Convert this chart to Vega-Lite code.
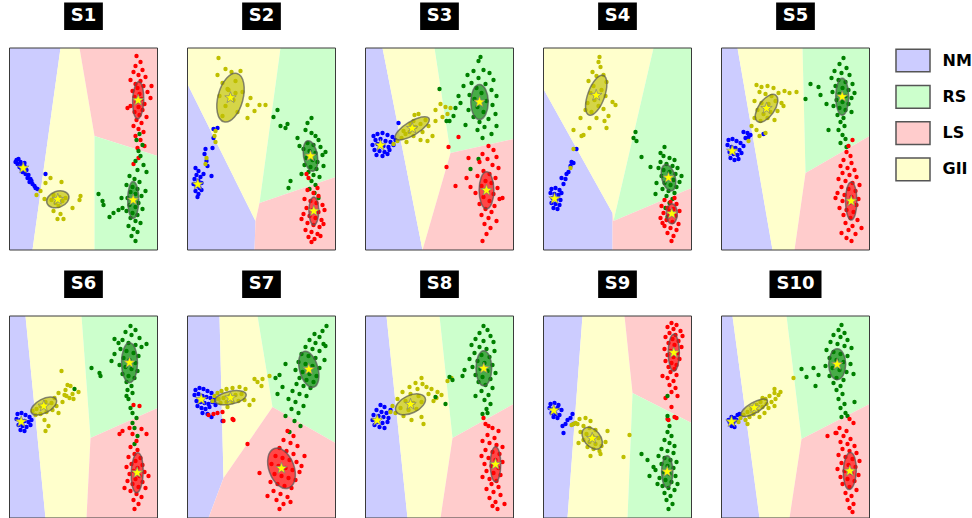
{
"$schema":"https://vega.github.io/schema/vega-lite/v6.json",
"padding":{"left":8.5,"top":2,"right":0,"bottom":0},
"autosize":{"type":"pad"},
"background":"white",
"data":{"values":[
{"p":1,"k":"t","s":"S1"},{"p":2,"k":"t","s":"S2"},{"p":3,"k":"t","s":"S3"},{"p":4,"k":"t","s":"S4"},{"p":5,"k":"t","s":"S5"},{"p":6,"k":"t","s":"S6"},{"p":7,"k":"t","s":"S7"},{"p":8,"k":"t","s":"S8"},{"p":9,"k":"t","s":"S9"},{"p":10,"k":"t","s":"S10"},
{"p":1,"k":"r","c":"NM","o":0,"x":0,"y":0},{"p":1,"k":"r","c":"NM","o":1,"x":51,"y":0},{"p":1,"k":"r","c":"NM","o":2,"x":23,"y":202},{"p":1,"k":"r","c":"NM","o":3,"x":0,"y":202},
{"p":1,"k":"r","c":"GII","o":0,"x":51,"y":0},{"p":1,"k":"r","c":"GII","o":1,"x":70,"y":0},{"p":1,"k":"r","c":"GII","o":2,"x":85,"y":88},{"p":1,"k":"r","c":"GII","o":3,"x":85,"y":202},{"p":1,"k":"r","c":"GII","o":4,"x":23,"y":202},
{"p":1,"k":"r","c":"LS","o":0,"x":70,"y":0},{"p":1,"k":"r","c":"LS","o":1,"x":148,"y":0},{"p":1,"k":"r","c":"LS","o":2,"x":148,"y":108},{"p":1,"k":"r","c":"LS","o":3,"x":85,"y":88},
{"p":1,"k":"r","c":"RS","o":0,"x":85,"y":88},{"p":1,"k":"r","c":"RS","o":1,"x":148,"y":108},{"p":1,"k":"r","c":"RS","o":2,"x":148,"y":202},{"p":1,"k":"r","c":"RS","o":3,"x":85,"y":202},
{"p":2,"k":"r","c":"NM","o":0,"x":0,"y":36},{"p":2,"k":"r","c":"NM","o":1,"x":68,"y":173},{"p":2,"k":"r","c":"NM","o":2,"x":67,"y":202},{"p":2,"k":"r","c":"NM","o":3,"x":0,"y":202},
{"p":2,"k":"r","c":"GII","o":0,"x":0,"y":0},{"p":2,"k":"r","c":"GII","o":1,"x":93,"y":0},{"p":2,"k":"r","c":"GII","o":2,"x":72,"y":155},{"p":2,"k":"r","c":"GII","o":3,"x":68,"y":173},{"p":2,"k":"r","c":"GII","o":4,"x":0,"y":36},
{"p":2,"k":"r","c":"RS","o":0,"x":93,"y":0},{"p":2,"k":"r","c":"RS","o":1,"x":148,"y":0},{"p":2,"k":"r","c":"RS","o":2,"x":148,"y":129},{"p":2,"k":"r","c":"RS","o":3,"x":72,"y":155},
{"p":2,"k":"r","c":"LS","o":0,"x":72,"y":155},{"p":2,"k":"r","c":"LS","o":1,"x":148,"y":129},{"p":2,"k":"r","c":"LS","o":2,"x":148,"y":202},{"p":2,"k":"r","c":"LS","o":3,"x":67,"y":202},{"p":2,"k":"r","c":"LS","o":4,"x":68,"y":173},
{"p":3,"k":"r","c":"NM","o":0,"x":0,"y":0},{"p":3,"k":"r","c":"NM","o":1,"x":17,"y":0},{"p":3,"k":"r","c":"NM","o":2,"x":57,"y":202},{"p":3,"k":"r","c":"NM","o":3,"x":0,"y":202},
{"p":3,"k":"r","c":"GII","o":0,"x":17,"y":0},{"p":3,"k":"r","c":"GII","o":1,"x":69,"y":0},{"p":3,"k":"r","c":"GII","o":2,"x":85,"y":105},{"p":3,"k":"r","c":"GII","o":3,"x":57,"y":202},
{"p":3,"k":"r","c":"RS","o":0,"x":69,"y":0},{"p":3,"k":"r","c":"RS","o":1,"x":148,"y":0},{"p":3,"k":"r","c":"RS","o":2,"x":148,"y":91},{"p":3,"k":"r","c":"RS","o":3,"x":85,"y":105},
{"p":3,"k":"r","c":"LS","o":0,"x":85,"y":105},{"p":3,"k":"r","c":"LS","o":1,"x":148,"y":91},{"p":3,"k":"r","c":"LS","o":2,"x":148,"y":202},{"p":3,"k":"r","c":"LS","o":3,"x":57,"y":202},
{"p":4,"k":"r","c":"NM","o":0,"x":0,"y":41},{"p":4,"k":"r","c":"NM","o":1,"x":69,"y":165},{"p":4,"k":"r","c":"NM","o":2,"x":69,"y":202},{"p":4,"k":"r","c":"NM","o":3,"x":0,"y":202},
{"p":4,"k":"r","c":"GII","o":0,"x":0,"y":0},{"p":4,"k":"r","c":"GII","o":1,"x":110,"y":0},{"p":4,"k":"r","c":"GII","o":2,"x":70,"y":173},{"p":4,"k":"r","c":"GII","o":3,"x":69,"y":165},{"p":4,"k":"r","c":"GII","o":4,"x":0,"y":41},
{"p":4,"k":"r","c":"RS","o":0,"x":110,"y":0},{"p":4,"k":"r","c":"RS","o":1,"x":148,"y":0},{"p":4,"k":"r","c":"RS","o":2,"x":148,"y":140},{"p":4,"k":"r","c":"RS","o":3,"x":70,"y":173},
{"p":4,"k":"r","c":"LS","o":0,"x":70,"y":173},{"p":4,"k":"r","c":"LS","o":1,"x":148,"y":140},{"p":4,"k":"r","c":"LS","o":2,"x":148,"y":202},{"p":4,"k":"r","c":"LS","o":3,"x":69,"y":202},{"p":4,"k":"r","c":"LS","o":4,"x":69,"y":165},
{"p":5,"k":"r","c":"NM","o":0,"x":0,"y":0},{"p":5,"k":"r","c":"NM","o":1,"x":16,"y":0},{"p":5,"k":"r","c":"NM","o":2,"x":51,"y":202},{"p":5,"k":"r","c":"NM","o":3,"x":0,"y":202},
{"p":5,"k":"r","c":"GII","o":0,"x":16,"y":0},{"p":5,"k":"r","c":"GII","o":1,"x":81,"y":0},{"p":5,"k":"r","c":"GII","o":2,"x":84,"y":125},{"p":5,"k":"r","c":"GII","o":3,"x":73,"y":202},{"p":5,"k":"r","c":"GII","o":4,"x":51,"y":202},
{"p":5,"k":"r","c":"RS","o":0,"x":81,"y":0},{"p":5,"k":"r","c":"RS","o":1,"x":148,"y":0},{"p":5,"k":"r","c":"RS","o":2,"x":148,"y":88},{"p":5,"k":"r","c":"RS","o":3,"x":84,"y":125},
{"p":5,"k":"r","c":"LS","o":0,"x":84,"y":125},{"p":5,"k":"r","c":"LS","o":1,"x":148,"y":88},{"p":5,"k":"r","c":"LS","o":2,"x":148,"y":202},{"p":5,"k":"r","c":"LS","o":3,"x":73,"y":202},
{"p":6,"k":"r","c":"NM","o":0,"x":0,"y":0},{"p":6,"k":"r","c":"NM","o":1,"x":16,"y":0},{"p":6,"k":"r","c":"NM","o":2,"x":36,"y":202},{"p":6,"k":"r","c":"NM","o":3,"x":0,"y":202},
{"p":6,"k":"r","c":"GII","o":0,"x":16,"y":0},{"p":6,"k":"r","c":"GII","o":1,"x":72,"y":0},{"p":6,"k":"r","c":"GII","o":2,"x":81,"y":122},{"p":6,"k":"r","c":"GII","o":3,"x":77,"y":202},{"p":6,"k":"r","c":"GII","o":4,"x":36,"y":202},
{"p":6,"k":"r","c":"RS","o":0,"x":72,"y":0},{"p":6,"k":"r","c":"RS","o":1,"x":148,"y":0},{"p":6,"k":"r","c":"RS","o":2,"x":148,"y":92},{"p":6,"k":"r","c":"RS","o":3,"x":81,"y":122},
{"p":6,"k":"r","c":"LS","o":0,"x":81,"y":122},{"p":6,"k":"r","c":"LS","o":1,"x":148,"y":92},{"p":6,"k":"r","c":"LS","o":2,"x":148,"y":202},{"p":6,"k":"r","c":"LS","o":3,"x":77,"y":202},
{"p":7,"k":"r","c":"NM","o":0,"x":0,"y":0},{"p":7,"k":"r","c":"NM","o":1,"x":32,"y":0},{"p":7,"k":"r","c":"NM","o":2,"x":36,"y":162},{"p":7,"k":"r","c":"NM","o":3,"x":21,"y":202},{"p":7,"k":"r","c":"NM","o":4,"x":0,"y":202},
{"p":7,"k":"r","c":"GII","o":0,"x":32,"y":0},{"p":7,"k":"r","c":"GII","o":1,"x":70,"y":0},{"p":7,"k":"r","c":"GII","o":2,"x":85,"y":91},{"p":7,"k":"r","c":"GII","o":3,"x":36,"y":162},
{"p":7,"k":"r","c":"RS","o":0,"x":70,"y":0},{"p":7,"k":"r","c":"RS","o":1,"x":148,"y":0},{"p":7,"k":"r","c":"RS","o":2,"x":148,"y":127},{"p":7,"k":"r","c":"RS","o":3,"x":85,"y":91},
{"p":7,"k":"r","c":"LS","o":0,"x":85,"y":91},{"p":7,"k":"r","c":"LS","o":1,"x":148,"y":127},{"p":7,"k":"r","c":"LS","o":2,"x":148,"y":202},{"p":7,"k":"r","c":"LS","o":3,"x":21,"y":202},{"p":7,"k":"r","c":"LS","o":4,"x":36,"y":162},
{"p":8,"k":"r","c":"NM","o":0,"x":0,"y":0},{"p":8,"k":"r","c":"NM","o":1,"x":21,"y":0},{"p":8,"k":"r","c":"NM","o":2,"x":42,"y":202},{"p":8,"k":"r","c":"NM","o":3,"x":0,"y":202},
{"p":8,"k":"r","c":"GII","o":0,"x":21,"y":0},{"p":8,"k":"r","c":"GII","o":1,"x":74,"y":0},{"p":8,"k":"r","c":"GII","o":2,"x":87,"y":122},{"p":8,"k":"r","c":"GII","o":3,"x":75,"y":202},{"p":8,"k":"r","c":"GII","o":4,"x":42,"y":202},
{"p":8,"k":"r","c":"RS","o":0,"x":74,"y":0},{"p":8,"k":"r","c":"RS","o":1,"x":148,"y":0},{"p":8,"k":"r","c":"RS","o":2,"x":148,"y":88},{"p":8,"k":"r","c":"RS","o":3,"x":87,"y":122},
{"p":8,"k":"r","c":"LS","o":0,"x":87,"y":122},{"p":8,"k":"r","c":"LS","o":1,"x":148,"y":88},{"p":8,"k":"r","c":"LS","o":2,"x":148,"y":202},{"p":8,"k":"r","c":"LS","o":3,"x":75,"y":202},
{"p":9,"k":"r","c":"NM","o":0,"x":0,"y":0},{"p":9,"k":"r","c":"NM","o":1,"x":39,"y":0},{"p":9,"k":"r","c":"NM","o":2,"x":24,"y":202},{"p":9,"k":"r","c":"NM","o":3,"x":0,"y":202},
{"p":9,"k":"r","c":"GII","o":0,"x":39,"y":0},{"p":9,"k":"r","c":"GII","o":1,"x":81,"y":0},{"p":9,"k":"r","c":"GII","o":2,"x":89,"y":77},{"p":9,"k":"r","c":"GII","o":3,"x":84,"y":202},{"p":9,"k":"r","c":"GII","o":4,"x":24,"y":202},
{"p":9,"k":"r","c":"LS","o":0,"x":81,"y":0},{"p":9,"k":"r","c":"LS","o":1,"x":148,"y":0},{"p":9,"k":"r","c":"LS","o":2,"x":148,"y":107},{"p":9,"k":"r","c":"LS","o":3,"x":89,"y":77},
{"p":9,"k":"r","c":"RS","o":0,"x":89,"y":77},{"p":9,"k":"r","c":"RS","o":1,"x":148,"y":107},{"p":9,"k":"r","c":"RS","o":2,"x":148,"y":202},{"p":9,"k":"r","c":"RS","o":3,"x":84,"y":202},
{"p":10,"k":"r","c":"NM","o":0,"x":0,"y":0},{"p":10,"k":"r","c":"NM","o":1,"x":11,"y":0},{"p":10,"k":"r","c":"NM","o":2,"x":38,"y":202},{"p":10,"k":"r","c":"NM","o":3,"x":0,"y":202},
{"p":10,"k":"r","c":"GII","o":0,"x":11,"y":0},{"p":10,"k":"r","c":"GII","o":1,"x":65,"y":0},{"p":10,"k":"r","c":"GII","o":2,"x":80,"y":123},{"p":10,"k":"r","c":"GII","o":3,"x":68,"y":202},{"p":10,"k":"r","c":"GII","o":4,"x":38,"y":202},
{"p":10,"k":"r","c":"RS","o":0,"x":65,"y":0},{"p":10,"k":"r","c":"RS","o":1,"x":148,"y":0},{"p":10,"k":"r","c":"RS","o":2,"x":148,"y":88},{"p":10,"k":"r","c":"RS","o":3,"x":80,"y":123},
{"p":10,"k":"r","c":"LS","o":0,"x":80,"y":123},{"p":10,"k":"r","c":"LS","o":1,"x":148,"y":88},{"p":10,"k":"r","c":"LS","o":2,"x":148,"y":202},{"p":10,"k":"r","c":"LS","o":3,"x":68,"y":202},
{"p":1,"k":"e","c":"NM","x":13.7,"y":120,"l":0,"r":0.5,"a":0},{"p":1,"k":"e","c":"GII","x":48.3,"y":151.3,"l":23,"r":0.7,"a":340},{"p":1,"k":"e","c":"LS","x":128.7,"y":52.3,"l":37,"r":0.3,"a":92},{"p":1,"k":"e","c":"RS","x":123.7,"y":152,"l":37,"r":0.3,"a":90},
{"p":2,"k":"e","c":"NM","x":10.3,"y":136.3,"l":0,"r":0.5,"a":0},{"p":2,"k":"e","c":"GII","x":43,"y":49.7,"l":50,"r":0.5,"a":285},{"p":2,"k":"e","c":"RS","x":123,"y":108,"l":31,"r":0.45,"a":80},{"p":2,"k":"e","c":"LS","x":126.3,"y":163,"l":28,"r":0.35,"a":90},
{"p":3,"k":"e","c":"NM","x":15,"y":97.3,"l":0,"r":0.5,"a":0},{"p":3,"k":"e","c":"GII","x":46.7,"y":80.3,"l":39,"r":0.35,"a":329},{"p":3,"k":"e","c":"RS","x":114,"y":54,"l":35,"r":0.5,"a":90},{"p":3,"k":"e","c":"LS","x":121,"y":142.3,"l":37,"r":0.4,"a":90},
{"p":4,"k":"e","c":"NM","x":11,"y":150.7,"l":0,"r":0.5,"a":0},{"p":4,"k":"e","c":"GII","x":52.7,"y":47.3,"l":42,"r":0.4,"a":290},{"p":4,"k":"e","c":"RS","x":125,"y":129.7,"l":27,"r":0.5,"a":75},{"p":4,"k":"e","c":"LS","x":128.3,"y":165.7,"l":20,"r":0.55,"a":90},
{"p":5,"k":"e","c":"NM","x":10.7,"y":103,"l":0,"r":0.5,"a":0},{"p":5,"k":"e","c":"GII","x":45,"y":60.3,"l":32,"r":0.5,"a":305},{"p":5,"k":"e","c":"RS","x":120.7,"y":48.7,"l":37,"r":0.35,"a":90},{"p":5,"k":"e","c":"LS","x":129.7,"y":153,"l":38,"r":0.3,"a":90},
{"p":6,"k":"e","c":"NM","x":11.7,"y":105.7,"l":0,"r":0.5,"a":0},{"p":6,"k":"e","c":"GII","x":34.3,"y":90,"l":28,"r":0.5,"a":332},{"p":6,"k":"e","c":"RS","x":120,"y":46.7,"l":40,"r":0.4,"a":90},{"p":6,"k":"e","c":"LS","x":127.7,"y":156.7,"l":40,"r":0.3,"a":92},
{"p":7,"k":"e","c":"NM","x":13.7,"y":83.3,"l":0,"r":0.5,"a":0},{"p":7,"k":"e","c":"GII","x":43,"y":81.7,"l":32,"r":0.4,"a":348},{"p":7,"k":"e","c":"RS","x":121.3,"y":53.3,"l":37,"r":0.5,"a":75},{"p":7,"k":"e","c":"LS","x":94,"y":152.3,"l":42,"r":0.6,"a":70},
{"p":8,"k":"e","c":"NM","x":11.7,"y":104.3,"l":0,"r":0.5,"a":0},{"p":8,"k":"e","c":"GII","x":45,"y":88.3,"l":32,"r":0.55,"a":335},{"p":8,"k":"e","c":"RS","x":118.3,"y":52.3,"l":35,"r":0.45,"a":90},{"p":8,"k":"e","c":"LS","x":130,"y":148.3,"l":35,"r":0.3,"a":90},
{"p":9,"k":"e","c":"NM","x":10.3,"y":94.3,"l":0,"r":0.5,"a":0},{"p":9,"k":"e","c":"GII","x":48.7,"y":122.3,"l":25,"r":0.65,"a":50},{"p":9,"k":"e","c":"LS","x":130.3,"y":36.7,"l":37,"r":0.3,"a":90},{"p":9,"k":"e","c":"RS","x":123.7,"y":155.7,"l":32,"r":0.35,"a":90},
{"p":10,"k":"e","c":"NM","x":10,"y":105.7,"l":0,"r":0.5,"a":0},{"p":10,"k":"e","c":"GII","x":32.7,"y":91.7,"l":30,"r":0.35,"a":330},{"p":10,"k":"e","c":"RS","x":115.7,"y":48.3,"l":31,"r":0.55,"a":90},{"p":10,"k":"e","c":"LS","x":128.3,"y":155,"l":37,"r":0.35,"a":92},
{"p":1,"c":"NM","x":7,"y":112},{"p":1,"c":"NM","x":9,"y":111},{"p":1,"c":"NM","x":11,"y":114},{"p":1,"c":"NM","x":8,"y":116},{"p":1,"c":"NM","x":12,"y":117},{"p":1,"c":"NM","x":15,"y":118},{"p":1,"c":"NM","x":10,"y":119},{"p":1,"c":"NM","x":14,"y":121},{"p":1,"c":"NM","x":17,"y":122},{"p":1,"c":"NM","x":13,"y":124},{"p":1,"c":"NM","x":16,"y":126},{"p":1,"c":"NM","x":19,"y":127},{"p":1,"c":"NM","x":18,"y":130},{"p":1,"c":"NM","x":21,"y":131},{"p":1,"c":"NM","x":20,"y":134},{"p":1,"c":"NM","x":23,"y":136},{"p":1,"c":"NM","x":25,"y":138},{"p":1,"c":"NM","x":28,"y":141},{"p":1,"c":"NM","x":26,"y":140},{"p":1,"c":"NM","x":36,"y":126},{"p":1,"c":"NM","x":12,"y":121},{"p":1,"c":"NM","x":15,"y":115},{"p":1,"c":"NM","x":22,"y":133},{"p":1,"c":"NM","x":6,"y":114},
{"p":1,"c":"GII","x":41,"y":130},{"p":1,"c":"GII","x":36,"y":135},{"p":1,"c":"GII","x":27,"y":147},{"p":1,"c":"GII","x":35,"y":151},{"p":1,"c":"GII","x":52,"y":134},{"p":1,"c":"GII","x":71,"y":148},{"p":1,"c":"GII","x":70,"y":152},{"p":1,"c":"GII","x":63,"y":160},{"p":1,"c":"GII","x":54,"y":171},{"p":1,"c":"GII","x":48,"y":171},{"p":1,"c":"GII","x":51,"y":166},{"p":1,"c":"GII","x":44,"y":163},{"p":1,"c":"GII","x":31,"y":143},{"p":1,"c":"GII","x":44,"y":147},{"p":1,"c":"GII","x":50,"y":149},{"p":1,"c":"GII","x":46,"y":155},{"p":1,"c":"GII","x":53,"y":153},{"p":1,"c":"GII","x":42,"y":152},{"p":1,"c":"GII","x":56,"y":150},{"p":1,"c":"GII","x":49,"y":158},
{"p":1,"c":"LS","x":127,"y":8},{"p":1,"c":"LS","x":131,"y":14},{"p":1,"c":"LS","x":126,"y":18},{"p":1,"c":"LS","x":133,"y":22},{"p":1,"c":"LS","x":124,"y":24},{"p":1,"c":"LS","x":129,"y":27},{"p":1,"c":"LS","x":136,"y":29},{"p":1,"c":"LS","x":121,"y":32},{"p":1,"c":"LS","x":131,"y":33},{"p":1,"c":"LS","x":126,"y":36},{"p":1,"c":"LS","x":134,"y":38},{"p":1,"c":"LS","x":128,"y":40},{"p":1,"c":"LS","x":123,"y":43},{"p":1,"c":"LS","x":138,"y":44},{"p":1,"c":"LS","x":130,"y":46},{"p":1,"c":"LS","x":125,"y":49},{"p":1,"c":"LS","x":132,"y":51},{"p":1,"c":"LS","x":127,"y":54},{"p":1,"c":"LS","x":135,"y":56},{"p":1,"c":"LS","x":121,"y":58},{"p":1,"c":"LS","x":129,"y":59},{"p":1,"c":"LS","x":133,"y":62},{"p":1,"c":"LS","x":125,"y":64},{"p":1,"c":"LS","x":130,"y":67},{"p":1,"c":"LS","x":137,"y":69},{"p":1,"c":"LS","x":127,"y":72},{"p":1,"c":"LS","x":132,"y":75},{"p":1,"c":"LS","x":124,"y":78},{"p":1,"c":"LS","x":129,"y":81},{"p":1,"c":"LS","x":134,"y":84},{"p":1,"c":"LS","x":126,"y":88},{"p":1,"c":"LS","x":131,"y":92},{"p":1,"c":"LS","x":135,"y":98},{"p":1,"c":"LS","x":128,"y":100},{"p":1,"c":"LS","x":118,"y":60},{"p":1,"c":"LS","x":141,"y":50},{"p":1,"c":"LS","x":142,"y":38},{"p":1,"c":"LS","x":129,"y":110},{"p":1,"c":"LS","x":124,"y":116},
{"p":1,"c":"RS","x":130,"y":86},{"p":1,"c":"RS","x":127,"y":92},{"p":1,"c":"RS","x":133,"y":97},{"p":1,"c":"RS","x":129,"y":103},{"p":1,"c":"RS","x":131,"y":108},{"p":1,"c":"RS","x":126,"y":113},{"p":1,"c":"RS","x":134,"y":117},{"p":1,"c":"RS","x":128,"y":122},{"p":1,"c":"RS","x":137,"y":124},{"p":1,"c":"RS","x":120,"y":128},{"p":1,"c":"RS","x":125,"y":131},{"p":1,"c":"RS","x":130,"y":134},{"p":1,"c":"RS","x":117,"y":137},{"p":1,"c":"RS","x":123,"y":139},{"p":1,"c":"RS","x":128,"y":141},{"p":1,"c":"RS","x":121,"y":144},{"p":1,"c":"RS","x":126,"y":146},{"p":1,"c":"RS","x":132,"y":148},{"p":1,"c":"RS","x":118,"y":150},{"p":1,"c":"RS","x":124,"y":152},{"p":1,"c":"RS","x":129,"y":155},{"p":1,"c":"RS","x":120,"y":157},{"p":1,"c":"RS","x":126,"y":159},{"p":1,"c":"RS","x":133,"y":161},{"p":1,"c":"RS","x":117,"y":163},{"p":1,"c":"RS","x":123,"y":165},{"p":1,"c":"RS","x":128,"y":167},{"p":1,"c":"RS","x":121,"y":170},{"p":1,"c":"RS","x":126,"y":173},{"p":1,"c":"RS","x":131,"y":175},{"p":1,"c":"RS","x":119,"y":178},{"p":1,"c":"RS","x":124,"y":181},{"p":1,"c":"RS","x":128,"y":184},{"p":1,"c":"RS","x":122,"y":188},{"p":1,"c":"RS","x":126,"y":193},{"p":1,"c":"RS","x":113,"y":160},{"p":1,"c":"RS","x":136,"y":143},{"p":1,"c":"RS","x":89,"y":146},{"p":1,"c":"RS","x":93,"y":153},{"p":1,"c":"RS","x":94,"y":157},{"p":1,"c":"RS","x":104,"y":165},{"p":1,"c":"RS","x":109,"y":162},{"p":1,"c":"RS","x":112,"y":150},{"p":1,"c":"RS","x":100,"y":169},
{"p":2,"c":"NM","x":8,"y":120},{"p":2,"c":"NM","x":11,"y":123},{"p":2,"c":"NM","x":9,"y":127},{"p":2,"c":"NM","x":13,"y":129},{"p":2,"c":"NM","x":7,"y":131},{"p":2,"c":"NM","x":11,"y":133},{"p":2,"c":"NM","x":14,"y":135},{"p":2,"c":"NM","x":9,"y":138},{"p":2,"c":"NM","x":12,"y":140},{"p":2,"c":"NM","x":8,"y":143},{"p":2,"c":"NM","x":11,"y":146},{"p":2,"c":"NM","x":14,"y":142},{"p":2,"c":"NM","x":10,"y":149},{"p":2,"c":"NM","x":6,"y":136},{"p":2,"c":"NM","x":16,"y":126},{"p":2,"c":"NM","x":30,"y":80},{"p":2,"c":"NM","x":26,"y":81},{"p":2,"c":"NM","x":26,"y":90},{"p":2,"c":"NM","x":25,"y":100},{"p":2,"c":"NM","x":18,"y":101},{"p":2,"c":"NM","x":17,"y":106},{"p":2,"c":"NM","x":19,"y":113},{"p":2,"c":"NM","x":20,"y":118},{"p":2,"c":"NM","x":24,"y":128},
{"p":2,"c":"GII","x":31,"y":10},{"p":2,"c":"GII","x":38,"y":21},{"p":2,"c":"GII","x":30,"y":27},{"p":2,"c":"GII","x":44,"y":24},{"p":2,"c":"GII","x":53,"y":23},{"p":2,"c":"GII","x":35,"y":35},{"p":2,"c":"GII","x":48,"y":33},{"p":2,"c":"GII","x":40,"y":41},{"p":2,"c":"GII","x":55,"y":44},{"p":2,"c":"GII","x":32,"y":48},{"p":2,"c":"GII","x":46,"y":52},{"p":2,"c":"GII","x":38,"y":58},{"p":2,"c":"GII","x":60,"y":57},{"p":2,"c":"GII","x":50,"y":64},{"p":2,"c":"GII","x":35,"y":68},{"p":2,"c":"GII","x":63,"y":50},{"p":2,"c":"GII","x":72,"y":57},{"p":2,"c":"GII","x":78,"y":57},{"p":2,"c":"GII","x":67,"y":63},{"p":2,"c":"GII","x":60,"y":70},{"p":2,"c":"GII","x":27,"y":88},{"p":2,"c":"GII","x":28,"y":94},{"p":2,"c":"GII","x":41,"y":42},{"p":2,"c":"GII","x":48,"y":45},{"p":2,"c":"GII","x":28,"y":83},{"p":2,"c":"GII","x":19,"y":110},{"p":2,"c":"GII","x":18,"y":116},
{"p":2,"c":"RS","x":118,"y":82},{"p":2,"c":"RS","x":124,"y":85},{"p":2,"c":"RS","x":128,"y":88},{"p":2,"c":"RS","x":131,"y":92},{"p":2,"c":"RS","x":120,"y":95},{"p":2,"c":"RS","x":126,"y":97},{"p":2,"c":"RS","x":133,"y":99},{"p":2,"c":"RS","x":116,"y":101},{"p":2,"c":"RS","x":122,"y":103},{"p":2,"c":"RS","x":128,"y":105},{"p":2,"c":"RS","x":135,"y":107},{"p":2,"c":"RS","x":119,"y":110},{"p":2,"c":"RS","x":125,"y":112},{"p":2,"c":"RS","x":130,"y":114},{"p":2,"c":"RS","x":117,"y":117},{"p":2,"c":"RS","x":123,"y":119},{"p":2,"c":"RS","x":129,"y":121},{"p":2,"c":"RS","x":121,"y":124},{"p":2,"c":"RS","x":126,"y":127},{"p":2,"c":"RS","x":132,"y":129},{"p":2,"c":"RS","x":124,"y":133},{"p":2,"c":"RS","x":128,"y":137},{"p":2,"c":"RS","x":122,"y":141},{"p":2,"c":"RS","x":127,"y":145},{"p":2,"c":"RS","x":131,"y":150},{"p":2,"c":"RS","x":112,"y":98},{"p":2,"c":"RS","x":110,"y":90},{"p":2,"c":"RS","x":138,"y":104},{"p":2,"c":"RS","x":136,"y":118},{"p":2,"c":"RS","x":114,"y":126},{"p":2,"c":"RS","x":90,"y":62},{"p":2,"c":"RS","x":86,"y":69},{"p":2,"c":"RS","x":93,"y":78},{"p":2,"c":"RS","x":100,"y":76},{"p":2,"c":"RS","x":98,"y":80},{"p":2,"c":"RS","x":124,"y":70},{"p":2,"c":"RS","x":101,"y":140},{"p":2,"c":"RS","x":103,"y":133},{"p":2,"c":"RS","x":120,"y":75},
{"p":2,"c":"LS","x":120,"y":142},{"p":2,"c":"LS","x":126,"y":145},{"p":2,"c":"LS","x":131,"y":148},{"p":2,"c":"LS","x":117,"y":151},{"p":2,"c":"LS","x":123,"y":153},{"p":2,"c":"LS","x":129,"y":155},{"p":2,"c":"LS","x":135,"y":157},{"p":2,"c":"LS","x":119,"y":160},{"p":2,"c":"LS","x":125,"y":162},{"p":2,"c":"LS","x":131,"y":164},{"p":2,"c":"LS","x":116,"y":166},{"p":2,"c":"LS","x":122,"y":168},{"p":2,"c":"LS","x":128,"y":170},{"p":2,"c":"LS","x":134,"y":172},{"p":2,"c":"LS","x":120,"y":175},{"p":2,"c":"LS","x":126,"y":177},{"p":2,"c":"LS","x":132,"y":179},{"p":2,"c":"LS","x":118,"y":182},{"p":2,"c":"LS","x":124,"y":184},{"p":2,"c":"LS","x":130,"y":186},{"p":2,"c":"LS","x":121,"y":189},{"p":2,"c":"LS","x":127,"y":191},{"p":2,"c":"LS","x":133,"y":188},{"p":2,"c":"LS","x":136,"y":176},{"p":2,"c":"LS","x":114,"y":171},{"p":2,"c":"LS","x":137,"y":162},{"p":2,"c":"LS","x":124,"y":194},{"p":2,"c":"LS","x":130,"y":140},{"p":2,"c":"LS","x":119,"y":126},{"p":2,"c":"LS","x":121,"y":130},
{"p":3,"c":"NM","x":8,"y":88},{"p":3,"c":"NM","x":12,"y":86},{"p":3,"c":"NM","x":17,"y":85},{"p":3,"c":"NM","x":22,"y":87},{"p":3,"c":"NM","x":27,"y":89},{"p":3,"c":"NM","x":10,"y":92},{"p":3,"c":"NM","x":15,"y":91},{"p":3,"c":"NM","x":20,"y":93},{"p":3,"c":"NM","x":25,"y":94},{"p":3,"c":"NM","x":30,"y":92},{"p":3,"c":"NM","x":7,"y":97},{"p":3,"c":"NM","x":12,"y":96},{"p":3,"c":"NM","x":18,"y":98},{"p":3,"c":"NM","x":23,"y":99},{"p":3,"c":"NM","x":28,"y":97},{"p":3,"c":"NM","x":9,"y":102},{"p":3,"c":"NM","x":14,"y":103},{"p":3,"c":"NM","x":19,"y":104},{"p":3,"c":"NM","x":24,"y":102},{"p":3,"c":"NM","x":11,"y":107},{"p":3,"c":"NM","x":17,"y":108},{"p":3,"c":"NM","x":22,"y":106},{"p":3,"c":"NM","x":33,"y":75},
{"p":3,"c":"GII","x":28,"y":96},{"p":3,"c":"GII","x":32,"y":93},{"p":3,"c":"GII","x":36,"y":90},{"p":3,"c":"GII","x":40,"y":86},{"p":3,"c":"GII","x":44,"y":84},{"p":3,"c":"GII","x":50,"y":79},{"p":3,"c":"GII","x":55,"y":76},{"p":3,"c":"GII","x":60,"y":72},{"p":3,"c":"GII","x":38,"y":83},{"p":3,"c":"GII","x":48,"y":88},{"p":3,"c":"GII","x":57,"y":84},{"p":3,"c":"GII","x":63,"y":78},{"p":3,"c":"GII","x":70,"y":73},{"p":3,"c":"GII","x":77,"y":69},{"p":3,"c":"GII","x":82,"y":66},{"p":3,"c":"GII","x":75,"y":56},{"p":3,"c":"GII","x":80,"y":59},{"p":3,"c":"GII","x":85,"y":60},{"p":3,"c":"GII","x":70,"y":62},{"p":3,"c":"GII","x":67,"y":88},{"p":3,"c":"GII","x":62,"y":93},{"p":3,"c":"GII","x":55,"y":92},{"p":3,"c":"GII","x":48,"y":73},{"p":3,"c":"GII","x":53,"y":66},{"p":3,"c":"GII","x":45,"y":76},{"p":3,"c":"GII","x":41,"y":94},{"p":3,"c":"GII","x":49,"y":67},
{"p":3,"c":"RS","x":115,"y":9},{"p":3,"c":"RS","x":118,"y":22},{"p":3,"c":"RS","x":108,"y":23},{"p":3,"c":"RS","x":124,"y":25},{"p":3,"c":"RS","x":102,"y":27},{"p":3,"c":"RS","x":113,"y":30},{"p":3,"c":"RS","x":128,"y":32},{"p":3,"c":"RS","x":106,"y":35},{"p":3,"c":"RS","x":120,"y":36},{"p":3,"c":"RS","x":98,"y":38},{"p":3,"c":"RS","x":111,"y":40},{"p":3,"c":"RS","x":126,"y":42},{"p":3,"c":"RS","x":116,"y":45},{"p":3,"c":"RS","x":104,"y":47},{"p":3,"c":"RS","x":131,"y":48},{"p":3,"c":"RS","x":109,"y":51},{"p":3,"c":"RS","x":121,"y":53},{"p":3,"c":"RS","x":95,"y":55},{"p":3,"c":"RS","x":127,"y":57},{"p":3,"c":"RS","x":112,"y":59},{"p":3,"c":"RS","x":103,"y":62},{"p":3,"c":"RS","x":118,"y":64},{"p":3,"c":"RS","x":130,"y":66},{"p":3,"c":"RS","x":108,"y":69},{"p":3,"c":"RS","x":123,"y":71},{"p":3,"c":"RS","x":114,"y":74},{"p":3,"c":"RS","x":100,"y":77},{"p":3,"c":"RS","x":119,"y":79},{"p":3,"c":"RS","x":112,"y":82},{"p":3,"c":"RS","x":126,"y":86},{"p":3,"c":"RS","x":117,"y":90},{"p":3,"c":"RS","x":90,"y":60},{"p":3,"c":"RS","x":88,"y":68},{"p":3,"c":"RS","x":84,"y":73},{"p":3,"c":"RS","x":93,"y":48},{"p":3,"c":"RS","x":113,"y":13},{"p":3,"c":"RS","x":131,"y":78},{"p":3,"c":"RS","x":113,"y":111},{"p":3,"c":"RS","x":105,"y":121},{"p":3,"c":"RS","x":74,"y":41},{"p":3,"c":"RS","x":81,"y":73},
{"p":3,"c":"LS","x":123,"y":98},{"p":3,"c":"LS","x":128,"y":102},{"p":3,"c":"LS","x":117,"y":106},{"p":3,"c":"LS","x":131,"y":109},{"p":3,"c":"LS","x":122,"y":111},{"p":3,"c":"LS","x":114,"y":114},{"p":3,"c":"LS","x":127,"y":117},{"p":3,"c":"LS","x":133,"y":120},{"p":3,"c":"LS","x":118,"y":123},{"p":3,"c":"LS","x":124,"y":126},{"p":3,"c":"LS","x":112,"y":128},{"p":3,"c":"LS","x":130,"y":130},{"p":3,"c":"LS","x":120,"y":133},{"p":3,"c":"LS","x":126,"y":135},{"p":3,"c":"LS","x":116,"y":138},{"p":3,"c":"LS","x":132,"y":140},{"p":3,"c":"LS","x":122,"y":143},{"p":3,"c":"LS","x":110,"y":145},{"p":3,"c":"LS","x":128,"y":146},{"p":3,"c":"LS","x":118,"y":149},{"p":3,"c":"LS","x":134,"y":151},{"p":3,"c":"LS","x":124,"y":153},{"p":3,"c":"LS","x":114,"y":156},{"p":3,"c":"LS","x":129,"y":158},{"p":3,"c":"LS","x":120,"y":161},{"p":3,"c":"LS","x":126,"y":164},{"p":3,"c":"LS","x":116,"y":167},{"p":3,"c":"LS","x":123,"y":170},{"p":3,"c":"LS","x":131,"y":173},{"p":3,"c":"LS","x":119,"y":176},{"p":3,"c":"LS","x":125,"y":180},{"p":3,"c":"LS","x":121,"y":186},{"p":3,"c":"LS","x":137,"y":150},{"p":3,"c":"LS","x":93,"y":89},{"p":3,"c":"LS","x":83,"y":99},{"p":3,"c":"LS","x":81,"y":119},{"p":3,"c":"LS","x":90,"y":138},{"p":3,"c":"LS","x":105,"y":139},{"p":3,"c":"LS","x":101,"y":130},{"p":3,"c":"LS","x":117,"y":193},{"p":3,"c":"LS","x":103,"y":110},
{"p":4,"c":"NM","x":8,"y":141},{"p":4,"c":"NM","x":12,"y":140},{"p":4,"c":"NM","x":16,"y":142},{"p":4,"c":"NM","x":7,"y":145},{"p":4,"c":"NM","x":11,"y":146},{"p":4,"c":"NM","x":15,"y":147},{"p":4,"c":"NM","x":18,"y":145},{"p":4,"c":"NM","x":9,"y":150},{"p":4,"c":"NM","x":13,"y":151},{"p":4,"c":"NM","x":17,"y":152},{"p":4,"c":"NM","x":8,"y":155},{"p":4,"c":"NM","x":12,"y":156},{"p":4,"c":"NM","x":16,"y":157},{"p":4,"c":"NM","x":10,"y":160},{"p":4,"c":"NM","x":14,"y":161},{"p":4,"c":"NM","x":33,"y":101},{"p":4,"c":"NM","x":28,"y":114},{"p":4,"c":"NM","x":30,"y":115},{"p":4,"c":"NM","x":27,"y":118},{"p":4,"c":"NM","x":23,"y":126},{"p":4,"c":"NM","x":22,"y":131},{"p":4,"c":"NM","x":20,"y":136},{"p":4,"c":"NM","x":18,"y":130},{"p":4,"c":"NM","x":25,"y":124},
{"p":4,"c":"GII","x":56,"y":9},{"p":4,"c":"GII","x":55,"y":14},{"p":4,"c":"GII","x":57,"y":19},{"p":4,"c":"GII","x":49,"y":24},{"p":4,"c":"GII","x":53,"y":28},{"p":4,"c":"GII","x":60,"y":27},{"p":4,"c":"GII","x":45,"y":33},{"p":4,"c":"GII","x":63,"y":34},{"p":4,"c":"GII","x":50,"y":38},{"p":4,"c":"GII","x":58,"y":42},{"p":4,"c":"GII","x":47,"y":45},{"p":4,"c":"GII","x":62,"y":48},{"p":4,"c":"GII","x":51,"y":52},{"p":4,"c":"GII","x":44,"y":55},{"p":4,"c":"GII","x":55,"y":58},{"p":4,"c":"GII","x":60,"y":61},{"p":4,"c":"GII","x":48,"y":64},{"p":4,"c":"GII","x":42,"y":62},{"p":4,"c":"GII","x":53,"y":70},{"p":4,"c":"GII","x":61,"y":73},{"p":4,"c":"GII","x":69,"y":54},{"p":4,"c":"GII","x":72,"y":57},{"p":4,"c":"GII","x":63,"y":80},{"p":4,"c":"GII","x":38,"y":88},{"p":4,"c":"GII","x":40,"y":87},{"p":4,"c":"GII","x":30,"y":82},{"p":4,"c":"GII","x":37,"y":70},{"p":4,"c":"GII","x":46,"y":80},{"p":4,"c":"GII","x":65,"y":68},{"p":4,"c":"GII","x":30,"y":101},{"p":4,"c":"GII","x":27,"y":120},
{"p":4,"c":"RS","x":120,"y":108},{"p":4,"c":"RS","x":126,"y":110},{"p":4,"c":"RS","x":131,"y":112},{"p":4,"c":"RS","x":117,"y":114},{"p":4,"c":"RS","x":123,"y":116},{"p":4,"c":"RS","x":129,"y":118},{"p":4,"c":"RS","x":134,"y":120},{"p":4,"c":"RS","x":120,"y":122},{"p":4,"c":"RS","x":126,"y":124},{"p":4,"c":"RS","x":132,"y":126},{"p":4,"c":"RS","x":118,"y":128},{"p":4,"c":"RS","x":124,"y":130},{"p":4,"c":"RS","x":130,"y":132},{"p":4,"c":"RS","x":136,"y":134},{"p":4,"c":"RS","x":121,"y":135},{"p":4,"c":"RS","x":127,"y":137},{"p":4,"c":"RS","x":133,"y":139},{"p":4,"c":"RS","x":119,"y":141},{"p":4,"c":"RS","x":125,"y":143},{"p":4,"c":"RS","x":131,"y":145},{"p":4,"c":"RS","x":123,"y":148},{"p":4,"c":"RS","x":129,"y":151},{"p":4,"c":"RS","x":126,"y":155},{"p":4,"c":"RS","x":122,"y":160},{"p":4,"c":"RS","x":128,"y":164},{"p":4,"c":"RS","x":124,"y":169},{"p":4,"c":"RS","x":138,"y":128},{"p":4,"c":"RS","x":115,"y":120},{"p":4,"c":"RS","x":92,"y":84},{"p":4,"c":"RS","x":90,"y":90},{"p":4,"c":"RS","x":93,"y":93},{"p":4,"c":"RS","x":98,"y":109},{"p":4,"c":"RS","x":107,"y":119},{"p":4,"c":"RS","x":113,"y":135},{"p":4,"c":"RS","x":112,"y":146},{"p":4,"c":"RS","x":121,"y":99},{"p":4,"c":"RS","x":117,"y":105},
{"p":4,"c":"LS","x":121,"y":152},{"p":4,"c":"LS","x":127,"y":154},{"p":4,"c":"LS","x":133,"y":156},{"p":4,"c":"LS","x":118,"y":158},{"p":4,"c":"LS","x":124,"y":160},{"p":4,"c":"LS","x":130,"y":161},{"p":4,"c":"LS","x":136,"y":163},{"p":4,"c":"LS","x":120,"y":165},{"p":4,"c":"LS","x":126,"y":167},{"p":4,"c":"LS","x":132,"y":168},{"p":4,"c":"LS","x":117,"y":170},{"p":4,"c":"LS","x":123,"y":172},{"p":4,"c":"LS","x":129,"y":174},{"p":4,"c":"LS","x":135,"y":176},{"p":4,"c":"LS","x":121,"y":178},{"p":4,"c":"LS","x":127,"y":180},{"p":4,"c":"LS","x":133,"y":182},{"p":4,"c":"LS","x":124,"y":185},{"p":4,"c":"LS","x":130,"y":188},{"p":4,"c":"LS","x":128,"y":193},{"p":4,"c":"LS","x":119,"y":175},{"p":4,"c":"LS","x":126,"y":163},{"p":4,"c":"LS","x":131,"y":150},
{"p":5,"c":"NM","x":7,"y":92},{"p":5,"c":"NM","x":11,"y":91},{"p":5,"c":"NM","x":15,"y":93},{"p":5,"c":"NM","x":19,"y":95},{"p":5,"c":"NM","x":22,"y":98},{"p":5,"c":"NM","x":6,"y":97},{"p":5,"c":"NM","x":10,"y":99},{"p":5,"c":"NM","x":14,"y":100},{"p":5,"c":"NM","x":18,"y":102},{"p":5,"c":"NM","x":8,"y":104},{"p":5,"c":"NM","x":12,"y":106},{"p":5,"c":"NM","x":16,"y":107},{"p":5,"c":"NM","x":20,"y":105},{"p":5,"c":"NM","x":9,"y":110},{"p":5,"c":"NM","x":13,"y":112},{"p":5,"c":"NM","x":17,"y":111},{"p":5,"c":"NM","x":22,"y":84},{"p":5,"c":"NM","x":26,"y":85},{"p":5,"c":"NM","x":29,"y":87},{"p":5,"c":"NM","x":42,"y":86},{"p":5,"c":"NM","x":24,"y":90},{"p":5,"c":"NM","x":27,"y":89},
{"p":5,"c":"GII","x":35,"y":37},{"p":5,"c":"GII","x":40,"y":39},{"p":5,"c":"GII","x":46,"y":38},{"p":5,"c":"GII","x":52,"y":40},{"p":5,"c":"GII","x":38,"y":44},{"p":5,"c":"GII","x":44,"y":46},{"p":5,"c":"GII","x":50,"y":48},{"p":5,"c":"GII","x":57,"y":45},{"p":5,"c":"GII","x":63,"y":43},{"p":5,"c":"GII","x":68,"y":45},{"p":5,"c":"GII","x":75,"y":44},{"p":5,"c":"GII","x":33,"y":53},{"p":5,"c":"GII","x":40,"y":55},{"p":5,"c":"GII","x":47,"y":56},{"p":5,"c":"GII","x":54,"y":53},{"p":5,"c":"GII","x":60,"y":55},{"p":5,"c":"GII","x":36,"y":62},{"p":5,"c":"GII","x":42,"y":66},{"p":5,"c":"GII","x":49,"y":64},{"p":5,"c":"GII","x":56,"y":63},{"p":5,"c":"GII","x":33,"y":70},{"p":5,"c":"GII","x":39,"y":73},{"p":5,"c":"GII","x":46,"y":70},{"p":5,"c":"GII","x":53,"y":72},{"p":5,"c":"GII","x":30,"y":78},{"p":5,"c":"GII","x":35,"y":82},{"p":5,"c":"GII","x":38,"y":88},{"p":5,"c":"GII","x":27,"y":93},{"p":5,"c":"GII","x":62,"y":58},{"p":5,"c":"GII","x":44,"y":85},
{"p":5,"c":"RS","x":122,"y":10},{"p":5,"c":"RS","x":118,"y":16},{"p":5,"c":"RS","x":125,"y":20},{"p":5,"c":"RS","x":113,"y":23},{"p":5,"c":"RS","x":120,"y":25},{"p":5,"c":"RS","x":128,"y":27},{"p":5,"c":"RS","x":110,"y":30},{"p":5,"c":"RS","x":117,"y":32},{"p":5,"c":"RS","x":124,"y":34},{"p":5,"c":"RS","x":131,"y":36},{"p":5,"c":"RS","x":114,"y":38},{"p":5,"c":"RS","x":121,"y":40},{"p":5,"c":"RS","x":127,"y":42},{"p":5,"c":"RS","x":111,"y":44},{"p":5,"c":"RS","x":118,"y":46},{"p":5,"c":"RS","x":124,"y":48},{"p":5,"c":"RS","x":130,"y":50},{"p":5,"c":"RS","x":115,"y":52},{"p":5,"c":"RS","x":121,"y":54},{"p":5,"c":"RS","x":127,"y":56},{"p":5,"c":"RS","x":112,"y":58},{"p":5,"c":"RS","x":118,"y":60},{"p":5,"c":"RS","x":124,"y":62},{"p":5,"c":"RS","x":130,"y":64},{"p":5,"c":"RS","x":116,"y":67},{"p":5,"c":"RS","x":122,"y":70},{"p":5,"c":"RS","x":119,"y":74},{"p":5,"c":"RS","x":123,"y":78},{"p":5,"c":"RS","x":117,"y":82},{"p":5,"c":"RS","x":121,"y":87},{"p":5,"c":"RS","x":124,"y":91},{"p":5,"c":"RS","x":119,"y":95},{"p":5,"c":"RS","x":125,"y":99},{"p":5,"c":"RS","x":89,"y":36},{"p":5,"c":"RS","x":97,"y":39},{"p":5,"c":"RS","x":99,"y":47},{"p":5,"c":"RS","x":105,"y":56},{"p":5,"c":"RS","x":107,"y":82},{"p":5,"c":"RS","x":84,"y":51},{"p":5,"c":"RS","x":133,"y":45},
{"p":5,"c":"LS","x":131,"y":92},{"p":5,"c":"LS","x":127,"y":98},{"p":5,"c":"LS","x":125,"y":104},{"p":5,"c":"LS","x":129,"y":108},{"p":5,"c":"LS","x":122,"y":112},{"p":5,"c":"LS","x":130,"y":115},{"p":5,"c":"LS","x":119,"y":118},{"p":5,"c":"LS","x":126,"y":120},{"p":5,"c":"LS","x":133,"y":122},{"p":5,"c":"LS","x":121,"y":125},{"p":5,"c":"LS","x":128,"y":127},{"p":5,"c":"LS","x":135,"y":129},{"p":5,"c":"LS","x":117,"y":131},{"p":5,"c":"LS","x":124,"y":133},{"p":5,"c":"LS","x":131,"y":135},{"p":5,"c":"LS","x":138,"y":137},{"p":5,"c":"LS","x":120,"y":139},{"p":5,"c":"LS","x":127,"y":141},{"p":5,"c":"LS","x":134,"y":143},{"p":5,"c":"LS","x":116,"y":145},{"p":5,"c":"LS","x":123,"y":147},{"p":5,"c":"LS","x":130,"y":149},{"p":5,"c":"LS","x":137,"y":151},{"p":5,"c":"LS","x":121,"y":153},{"p":5,"c":"LS","x":128,"y":155},{"p":5,"c":"LS","x":135,"y":157},{"p":5,"c":"LS","x":118,"y":160},{"p":5,"c":"LS","x":125,"y":162},{"p":5,"c":"LS","x":132,"y":164},{"p":5,"c":"LS","x":122,"y":167},{"p":5,"c":"LS","x":129,"y":170},{"p":5,"c":"LS","x":136,"y":172},{"p":5,"c":"LS","x":124,"y":175},{"p":5,"c":"LS","x":131,"y":178},{"p":5,"c":"LS","x":127,"y":182},{"p":5,"c":"LS","x":120,"y":185},{"p":5,"c":"LS","x":134,"y":186},{"p":5,"c":"LS","x":125,"y":190},{"p":5,"c":"LS","x":130,"y":193},{"p":5,"c":"LS","x":140,"y":180},{"p":5,"c":"LS","x":114,"y":150},
{"p":6,"c":"NM","x":8,"y":98},{"p":6,"c":"NM","x":12,"y":97},{"p":6,"c":"NM","x":16,"y":99},{"p":6,"c":"NM","x":20,"y":101},{"p":6,"c":"NM","x":7,"y":103},{"p":6,"c":"NM","x":11,"y":104},{"p":6,"c":"NM","x":15,"y":105},{"p":6,"c":"NM","x":19,"y":106},{"p":6,"c":"NM","x":9,"y":109},{"p":6,"c":"NM","x":13,"y":110},{"p":6,"c":"NM","x":17,"y":111},{"p":6,"c":"NM","x":21,"y":109},{"p":6,"c":"NM","x":11,"y":114},{"p":6,"c":"NM","x":15,"y":115},{"p":6,"c":"NM","x":22,"y":104},
{"p":6,"c":"GII","x":52,"y":55},{"p":6,"c":"GII","x":58,"y":69},{"p":6,"c":"GII","x":56,"y":74},{"p":6,"c":"GII","x":61,"y":70},{"p":6,"c":"GII","x":49,"y":77},{"p":6,"c":"GII","x":55,"y":79},{"p":6,"c":"GII","x":60,"y":82},{"p":6,"c":"GII","x":64,"y":83},{"p":6,"c":"GII","x":53,"y":86},{"p":6,"c":"GII","x":47,"y":90},{"p":6,"c":"GII","x":42,"y":87},{"p":6,"c":"GII","x":36,"y":86},{"p":6,"c":"GII","x":31,"y":90},{"p":6,"c":"GII","x":27,"y":93},{"p":6,"c":"GII","x":23,"y":95},{"p":6,"c":"GII","x":26,"y":99},{"p":6,"c":"GII","x":31,"y":98},{"p":6,"c":"GII","x":37,"y":96},{"p":6,"c":"GII","x":43,"y":94},{"p":6,"c":"GII","x":49,"y":97},{"p":6,"c":"GII","x":35,"y":104},{"p":6,"c":"GII","x":39,"y":110},{"p":6,"c":"GII","x":36,"y":115},{"p":6,"c":"GII","x":57,"y":80},{"p":6,"c":"GII","x":63,"y":78},{"p":6,"c":"GII","x":69,"y":76},{"p":6,"c":"GII","x":45,"y":82},
{"p":6,"c":"RS","x":121,"y":10},{"p":6,"c":"RS","x":126,"y":14},{"p":6,"c":"RS","x":116,"y":16},{"p":6,"c":"RS","x":122,"y":19},{"p":6,"c":"RS","x":130,"y":22},{"p":6,"c":"RS","x":113,"y":24},{"p":6,"c":"RS","x":119,"y":27},{"p":6,"c":"RS","x":126,"y":29},{"p":6,"c":"RS","x":132,"y":31},{"p":6,"c":"RS","x":111,"y":33},{"p":6,"c":"RS","x":117,"y":35},{"p":6,"c":"RS","x":124,"y":37},{"p":6,"c":"RS","x":129,"y":40},{"p":6,"c":"RS","x":114,"y":42},{"p":6,"c":"RS","x":120,"y":44},{"p":6,"c":"RS","x":126,"y":47},{"p":6,"c":"RS","x":110,"y":49},{"p":6,"c":"RS","x":116,"y":51},{"p":6,"c":"RS","x":122,"y":53},{"p":6,"c":"RS","x":128,"y":55},{"p":6,"c":"RS","x":113,"y":58},{"p":6,"c":"RS","x":119,"y":60},{"p":6,"c":"RS","x":125,"y":62},{"p":6,"c":"RS","x":117,"y":66},{"p":6,"c":"RS","x":122,"y":70},{"p":6,"c":"RS","x":118,"y":74},{"p":6,"c":"RS","x":123,"y":77},{"p":6,"c":"RS","x":82,"y":52},{"p":6,"c":"RS","x":90,"y":57},{"p":6,"c":"RS","x":91,"y":60},{"p":6,"c":"RS","x":105,"y":23},{"p":6,"c":"RS","x":109,"y":27},{"p":6,"c":"RS","x":102,"y":45},{"p":6,"c":"RS","x":105,"y":38},{"p":6,"c":"RS","x":117,"y":80},{"p":6,"c":"RS","x":119,"y":83},{"p":6,"c":"RS","x":121,"y":92},{"p":6,"c":"RS","x":123,"y":97},{"p":6,"c":"RS","x":127,"y":102},{"p":6,"c":"RS","x":123,"y":107},{"p":6,"c":"RS","x":125,"y":112},{"p":6,"c":"RS","x":128,"y":120},{"p":6,"c":"RS","x":125,"y":128},{"p":6,"c":"RS","x":137,"y":28},{"p":6,"c":"RS","x":65,"y":73},
{"p":6,"c":"LS","x":124,"y":89},{"p":6,"c":"LS","x":130,"y":90},{"p":6,"c":"LS","x":113,"y":115},{"p":6,"c":"LS","x":120,"y":112},{"p":6,"c":"LS","x":123,"y":118},{"p":6,"c":"LS","x":110,"y":118},{"p":6,"c":"LS","x":132,"y":113},{"p":6,"c":"LS","x":137,"y":118},{"p":6,"c":"LS","x":127,"y":125},{"p":6,"c":"LS","x":121,"y":131},{"p":6,"c":"LS","x":128,"y":134},{"p":6,"c":"LS","x":125,"y":138},{"p":6,"c":"LS","x":119,"y":141},{"p":6,"c":"LS","x":131,"y":142},{"p":6,"c":"LS","x":126,"y":145},{"p":6,"c":"LS","x":122,"y":148},{"p":6,"c":"LS","x":133,"y":149},{"p":6,"c":"LS","x":117,"y":151},{"p":6,"c":"LS","x":128,"y":152},{"p":6,"c":"LS","x":124,"y":155},{"p":6,"c":"LS","x":135,"y":156},{"p":6,"c":"LS","x":120,"y":158},{"p":6,"c":"LS","x":130,"y":160},{"p":6,"c":"LS","x":126,"y":163},{"p":6,"c":"LS","x":118,"y":165},{"p":6,"c":"LS","x":133,"y":166},{"p":6,"c":"LS","x":123,"y":168},{"p":6,"c":"LS","x":129,"y":171},{"p":6,"c":"LS","x":136,"y":172},{"p":6,"c":"LS","x":121,"y":175},{"p":6,"c":"LS","x":127,"y":178},{"p":6,"c":"LS","x":132,"y":181},{"p":6,"c":"LS","x":124,"y":184},{"p":6,"c":"LS","x":129,"y":188},{"p":6,"c":"LS","x":125,"y":193},{"p":6,"c":"LS","x":139,"y":160},{"p":6,"c":"LS","x":115,"y":172},
{"p":7,"c":"NM","x":8,"y":74},{"p":7,"c":"NM","x":12,"y":72},{"p":7,"c":"NM","x":16,"y":73},{"p":7,"c":"NM","x":20,"y":75},{"p":7,"c":"NM","x":24,"y":77},{"p":7,"c":"NM","x":7,"y":79},{"p":7,"c":"NM","x":11,"y":78},{"p":7,"c":"NM","x":15,"y":80},{"p":7,"c":"NM","x":19,"y":81},{"p":7,"c":"NM","x":23,"y":82},{"p":7,"c":"NM","x":27,"y":84},{"p":7,"c":"NM","x":9,"y":85},{"p":7,"c":"NM","x":13,"y":86},{"p":7,"c":"NM","x":17,"y":87},{"p":7,"c":"NM","x":21,"y":88},{"p":7,"c":"NM","x":25,"y":86},{"p":7,"c":"NM","x":10,"y":90},{"p":7,"c":"NM","x":14,"y":92},{"p":7,"c":"NM","x":18,"y":93},{"p":7,"c":"NM","x":22,"y":91},{"p":7,"c":"NM","x":28,"y":89},{"p":7,"c":"NM","x":15,"y":97},{"p":7,"c":"NM","x":20,"y":98},{"p":7,"c":"NM","x":35,"y":105},{"p":7,"c":"NM","x":24,"y":101},
{"p":7,"c":"GII","x":30,"y":77},{"p":7,"c":"GII","x":34,"y":75},{"p":7,"c":"GII","x":39,"y":73},{"p":7,"c":"GII","x":45,"y":72},{"p":7,"c":"GII","x":52,"y":71},{"p":7,"c":"GII","x":58,"y":73},{"p":7,"c":"GII","x":31,"y":83},{"p":7,"c":"GII","x":36,"y":82},{"p":7,"c":"GII","x":42,"y":80},{"p":7,"c":"GII","x":48,"y":79},{"p":7,"c":"GII","x":54,"y":78},{"p":7,"c":"GII","x":33,"y":87},{"p":7,"c":"GII","x":39,"y":86},{"p":7,"c":"GII","x":45,"y":86},{"p":7,"c":"GII","x":51,"y":85},{"p":7,"c":"GII","x":57,"y":84},{"p":7,"c":"GII","x":67,"y":63},{"p":7,"c":"GII","x":70,"y":66},{"p":7,"c":"GII","x":75,"y":63},{"p":7,"c":"GII","x":82,"y":60},{"p":7,"c":"GII","x":74,"y":70},{"p":7,"c":"GII","x":66,"y":84},{"p":7,"c":"GII","x":62,"y":89},{"p":7,"c":"GII","x":27,"y":80},{"p":7,"c":"GII","x":40,"y":91},{"p":7,"c":"GII","x":25,"y":85},
{"p":7,"c":"RS","x":139,"y":10},{"p":7,"c":"RS","x":135,"y":15},{"p":7,"c":"RS","x":127,"y":18},{"p":7,"c":"RS","x":132,"y":21},{"p":7,"c":"RS","x":122,"y":24},{"p":7,"c":"RS","x":128,"y":27},{"p":7,"c":"RS","x":136,"y":28},{"p":7,"c":"RS","x":118,"y":31},{"p":7,"c":"RS","x":125,"y":33},{"p":7,"c":"RS","x":132,"y":35},{"p":7,"c":"RS","x":114,"y":38},{"p":7,"c":"RS","x":121,"y":40},{"p":7,"c":"RS","x":128,"y":42},{"p":7,"c":"RS","x":137,"y":44},{"p":7,"c":"RS","x":111,"y":46},{"p":7,"c":"RS","x":118,"y":48},{"p":7,"c":"RS","x":125,"y":50},{"p":7,"c":"RS","x":132,"y":52},{"p":7,"c":"RS","x":108,"y":54},{"p":7,"c":"RS","x":115,"y":56},{"p":7,"c":"RS","x":122,"y":58},{"p":7,"c":"RS","x":129,"y":60},{"p":7,"c":"RS","x":112,"y":62},{"p":7,"c":"RS","x":119,"y":64},{"p":7,"c":"RS","x":126,"y":66},{"p":7,"c":"RS","x":109,"y":68},{"p":7,"c":"RS","x":116,"y":70},{"p":7,"c":"RS","x":123,"y":72},{"p":7,"c":"RS","x":105,"y":75},{"p":7,"c":"RS","x":112,"y":78},{"p":7,"c":"RS","x":119,"y":80},{"p":7,"c":"RS","x":101,"y":83},{"p":7,"c":"RS","x":108,"y":86},{"p":7,"c":"RS","x":116,"y":90},{"p":7,"c":"RS","x":104,"y":93},{"p":7,"c":"RS","x":111,"y":97},{"p":7,"c":"RS","x":98,"y":100},{"p":7,"c":"RS","x":107,"y":105},{"p":7,"c":"RS","x":113,"y":110},{"p":7,"c":"RS","x":102,"y":116},{"p":7,"c":"RS","x":88,"y":62},{"p":7,"c":"RS","x":92,"y":59},{"p":7,"c":"RS","x":95,"y":71},{"p":7,"c":"RS","x":98,"y":48},{"p":7,"c":"RS","x":90,"y":78},{"p":7,"c":"RS","x":138,"y":30},
{"p":7,"c":"LS","x":100,"y":115},{"p":7,"c":"LS","x":106,"y":120},{"p":7,"c":"LS","x":96,"y":124},{"p":7,"c":"LS","x":103,"y":127},{"p":7,"c":"LS","x":110,"y":130},{"p":7,"c":"LS","x":92,"y":132},{"p":7,"c":"LS","x":99,"y":135},{"p":7,"c":"LS","x":106,"y":138},{"p":7,"c":"LS","x":88,"y":140},{"p":7,"c":"LS","x":95,"y":142},{"p":7,"c":"LS","x":102,"y":144},{"p":7,"c":"LS","x":109,"y":146},{"p":7,"c":"LS","x":84,"y":148},{"p":7,"c":"LS","x":91,"y":150},{"p":7,"c":"LS","x":98,"y":152},{"p":7,"c":"LS","x":105,"y":154},{"p":7,"c":"LS","x":112,"y":156},{"p":7,"c":"LS","x":87,"y":158},{"p":7,"c":"LS","x":94,"y":160},{"p":7,"c":"LS","x":101,"y":162},{"p":7,"c":"LS","x":108,"y":164},{"p":7,"c":"LS","x":83,"y":166},{"p":7,"c":"LS","x":90,"y":168},{"p":7,"c":"LS","x":97,"y":170},{"p":7,"c":"LS","x":104,"y":172},{"p":7,"c":"LS","x":86,"y":175},{"p":7,"c":"LS","x":93,"y":178},{"p":7,"c":"LS","x":100,"y":181},{"p":7,"c":"LS","x":89,"y":184},{"p":7,"c":"LS","x":96,"y":188},{"p":7,"c":"LS","x":92,"y":193},{"p":7,"c":"LS","x":72,"y":157},{"p":7,"c":"LS","x":60,"y":128},{"p":7,"c":"LS","x":114,"y":150},{"p":7,"c":"LS","x":80,"y":180},{"p":7,"c":"LS","x":103,"y":186},{"p":7,"c":"LS","x":117,"y":140},{"p":7,"c":"LS","x":26,"y":98},{"p":7,"c":"LS","x":21,"y":99},{"p":7,"c":"LS","x":30,"y":97},{"p":7,"c":"LS","x":35,"y":96},{"p":7,"c":"LS","x":45,"y":103},{"p":7,"c":"LS","x":46,"y":104},{"p":7,"c":"LS","x":36,"y":105},
{"p":8,"c":"NM","x":15,"y":89},{"p":8,"c":"NM","x":19,"y":91},{"p":8,"c":"NM","x":11,"y":94},{"p":8,"c":"NM","x":16,"y":96},{"p":8,"c":"NM","x":21,"y":97},{"p":8,"c":"NM","x":8,"y":99},{"p":8,"c":"NM","x":13,"y":100},{"p":8,"c":"NM","x":18,"y":101},{"p":8,"c":"NM","x":23,"y":102},{"p":8,"c":"NM","x":7,"y":104},{"p":8,"c":"NM","x":12,"y":106},{"p":8,"c":"NM","x":17,"y":107},{"p":8,"c":"NM","x":22,"y":106},{"p":8,"c":"NM","x":9,"y":109},{"p":8,"c":"NM","x":14,"y":111},{"p":8,"c":"NM","x":19,"y":112},{"p":8,"c":"NM","x":25,"y":94},
{"p":8,"c":"GII","x":56,"y":62},{"p":8,"c":"GII","x":50,"y":67},{"p":8,"c":"GII","x":57,"y":68},{"p":8,"c":"GII","x":44,"y":71},{"p":8,"c":"GII","x":52,"y":73},{"p":8,"c":"GII","x":61,"y":71},{"p":8,"c":"GII","x":66,"y":73},{"p":8,"c":"GII","x":37,"y":76},{"p":8,"c":"GII","x":45,"y":78},{"p":8,"c":"GII","x":53,"y":80},{"p":8,"c":"GII","x":63,"y":78},{"p":8,"c":"GII","x":72,"y":76},{"p":8,"c":"GII","x":76,"y":79},{"p":8,"c":"GII","x":68,"y":85},{"p":8,"c":"GII","x":32,"y":83},{"p":8,"c":"GII","x":40,"y":85},{"p":8,"c":"GII","x":48,"y":87},{"p":8,"c":"GII","x":56,"y":86},{"p":8,"c":"GII","x":27,"y":90},{"p":8,"c":"GII","x":35,"y":92},{"p":8,"c":"GII","x":43,"y":94},{"p":8,"c":"GII","x":51,"y":93},{"p":8,"c":"GII","x":30,"y":97},{"p":8,"c":"GII","x":38,"y":100},{"p":8,"c":"GII","x":46,"y":104},{"p":8,"c":"GII","x":56,"y":101},{"p":8,"c":"GII","x":58,"y":108},{"p":8,"c":"GII","x":25,"y":96},{"p":8,"c":"GII","x":71,"y":82},{"p":8,"c":"GII","x":82,"y":65},{"p":8,"c":"GII","x":86,"y":62},
{"p":8,"c":"RS","x":118,"y":10},{"p":8,"c":"RS","x":122,"y":14},{"p":8,"c":"RS","x":114,"y":17},{"p":8,"c":"RS","x":125,"y":20},{"p":8,"c":"RS","x":110,"y":23},{"p":8,"c":"RS","x":118,"y":25},{"p":8,"c":"RS","x":128,"y":26},{"p":8,"c":"RS","x":106,"y":29},{"p":8,"c":"RS","x":114,"y":31},{"p":8,"c":"RS","x":121,"y":33},{"p":8,"c":"RS","x":129,"y":35},{"p":8,"c":"RS","x":109,"y":37},{"p":8,"c":"RS","x":116,"y":39},{"p":8,"c":"RS","x":124,"y":41},{"p":8,"c":"RS","x":104,"y":43},{"p":8,"c":"RS","x":112,"y":45},{"p":8,"c":"RS","x":119,"y":47},{"p":8,"c":"RS","x":127,"y":49},{"p":8,"c":"RS","x":107,"y":51},{"p":8,"c":"RS","x":115,"y":53},{"p":8,"c":"RS","x":122,"y":55},{"p":8,"c":"RS","x":130,"y":57},{"p":8,"c":"RS","x":110,"y":59},{"p":8,"c":"RS","x":117,"y":61},{"p":8,"c":"RS","x":125,"y":63},{"p":8,"c":"RS","x":113,"y":66},{"p":8,"c":"RS","x":120,"y":69},{"p":8,"c":"RS","x":127,"y":72},{"p":8,"c":"RS","x":116,"y":75},{"p":8,"c":"RS","x":123,"y":79},{"p":8,"c":"RS","x":119,"y":84},{"p":8,"c":"RS","x":125,"y":88},{"p":8,"c":"RS","x":121,"y":93},{"p":8,"c":"RS","x":99,"y":54},{"p":8,"c":"RS","x":97,"y":60},{"p":8,"c":"RS","x":84,"y":61},{"p":8,"c":"RS","x":87,"y":64},{"p":8,"c":"RS","x":110,"y":80},{"p":8,"c":"RS","x":122,"y":97},{"p":8,"c":"RS","x":117,"y":98},{"p":8,"c":"RS","x":80,"y":88},{"p":8,"c":"RS","x":70,"y":81},
{"p":8,"c":"LS","x":120,"y":108},{"p":8,"c":"LS","x":127,"y":112},{"p":8,"c":"LS","x":133,"y":115},{"p":8,"c":"LS","x":122,"y":119},{"p":8,"c":"LS","x":129,"y":122},{"p":8,"c":"LS","x":117,"y":125},{"p":8,"c":"LS","x":124,"y":127},{"p":8,"c":"LS","x":131,"y":129},{"p":8,"c":"LS","x":137,"y":131},{"p":8,"c":"LS","x":120,"y":134},{"p":8,"c":"LS","x":127,"y":136},{"p":8,"c":"LS","x":134,"y":138},{"p":8,"c":"LS","x":116,"y":140},{"p":8,"c":"LS","x":123,"y":142},{"p":8,"c":"LS","x":130,"y":144},{"p":8,"c":"LS","x":137,"y":146},{"p":8,"c":"LS","x":119,"y":148},{"p":8,"c":"LS","x":126,"y":150},{"p":8,"c":"LS","x":133,"y":152},{"p":8,"c":"LS","x":121,"y":155},{"p":8,"c":"LS","x":128,"y":157},{"p":8,"c":"LS","x":135,"y":159},{"p":8,"c":"LS","x":117,"y":161},{"p":8,"c":"LS","x":124,"y":163},{"p":8,"c":"LS","x":131,"y":165},{"p":8,"c":"LS","x":126,"y":168},{"p":8,"c":"LS","x":133,"y":171},{"p":8,"c":"LS","x":121,"y":173},{"p":8,"c":"LS","x":128,"y":176},{"p":8,"c":"LS","x":135,"y":179},{"p":8,"c":"LS","x":124,"y":182},{"p":8,"c":"LS","x":130,"y":186},{"p":8,"c":"LS","x":127,"y":190},{"p":8,"c":"LS","x":139,"y":188},{"p":8,"c":"LS","x":132,"y":193},{"p":8,"c":"LS","x":123,"y":110},{"p":8,"c":"LS","x":118,"y":102},
{"p":9,"c":"NM","x":7,"y":88},{"p":9,"c":"NM","x":11,"y":87},{"p":9,"c":"NM","x":15,"y":89},{"p":9,"c":"NM","x":6,"y":92},{"p":9,"c":"NM","x":10,"y":93},{"p":9,"c":"NM","x":14,"y":92},{"p":9,"c":"NM","x":18,"y":94},{"p":9,"c":"NM","x":8,"y":97},{"p":9,"c":"NM","x":12,"y":98},{"p":9,"c":"NM","x":16,"y":99},{"p":9,"c":"NM","x":10,"y":101},{"p":9,"c":"NM","x":14,"y":102},{"p":9,"c":"NM","x":29,"y":98},{"p":9,"c":"NM","x":27,"y":102},{"p":9,"c":"NM","x":22,"y":108},{"p":9,"c":"NM","x":19,"y":110},{"p":9,"c":"NM","x":20,"y":117},{"p":9,"c":"NM","x":30,"y":108},{"p":9,"c":"NM","x":24,"y":104},
{"p":9,"c":"GII","x":36,"y":103},{"p":9,"c":"GII","x":42,"y":102},{"p":9,"c":"GII","x":47,"y":105},{"p":9,"c":"GII","x":30,"y":108},{"p":9,"c":"GII","x":34,"y":108},{"p":9,"c":"GII","x":40,"y":110},{"p":9,"c":"GII","x":46,"y":112},{"p":9,"c":"GII","x":52,"y":114},{"p":9,"c":"GII","x":37,"y":116},{"p":9,"c":"GII","x":43,"y":118},{"p":9,"c":"GII","x":49,"y":120},{"p":9,"c":"GII","x":55,"y":122},{"p":9,"c":"GII","x":40,"y":124},{"p":9,"c":"GII","x":46,"y":126},{"p":9,"c":"GII","x":52,"y":128},{"p":9,"c":"GII","x":58,"y":130},{"p":9,"c":"GII","x":44,"y":131},{"p":9,"c":"GII","x":50,"y":133},{"p":9,"c":"GII","x":56,"y":135},{"p":9,"c":"GII","x":35,"y":127},{"p":9,"c":"GII","x":62,"y":126},{"p":9,"c":"GII","x":64,"y":115},{"p":9,"c":"GII","x":47,"y":140},{"p":9,"c":"GII","x":86,"y":119},{"p":9,"c":"GII","x":80,"y":141},{"p":9,"c":"GII","x":57,"y":138},{"p":9,"c":"GII","x":28,"y":109},{"p":9,"c":"GII","x":32,"y":107},
{"p":9,"c":"LS","x":128,"y":7},{"p":9,"c":"LS","x":133,"y":9},{"p":9,"c":"LS","x":124,"y":11},{"p":9,"c":"LS","x":130,"y":13},{"p":9,"c":"LS","x":137,"y":15},{"p":9,"c":"LS","x":126,"y":17},{"p":9,"c":"LS","x":132,"y":19},{"p":9,"c":"LS","x":122,"y":21},{"p":9,"c":"LS","x":129,"y":23},{"p":9,"c":"LS","x":135,"y":25},{"p":9,"c":"LS","x":125,"y":27},{"p":9,"c":"LS","x":131,"y":29},{"p":9,"c":"LS","x":138,"y":31},{"p":9,"c":"LS","x":121,"y":33},{"p":9,"c":"LS","x":127,"y":35},{"p":9,"c":"LS","x":134,"y":37},{"p":9,"c":"LS","x":124,"y":39},{"p":9,"c":"LS","x":130,"y":41},{"p":9,"c":"LS","x":136,"y":43},{"p":9,"c":"LS","x":122,"y":45},{"p":9,"c":"LS","x":128,"y":47},{"p":9,"c":"LS","x":133,"y":49},{"p":9,"c":"LS","x":125,"y":51},{"p":9,"c":"LS","x":131,"y":53},{"p":9,"c":"LS","x":127,"y":56},{"p":9,"c":"LS","x":133,"y":59},{"p":9,"c":"LS","x":124,"y":62},{"p":9,"c":"LS","x":130,"y":65},{"p":9,"c":"LS","x":126,"y":69},{"p":9,"c":"LS","x":132,"y":72},{"p":9,"c":"LS","x":128,"y":76},{"p":9,"c":"LS","x":134,"y":80},{"p":9,"c":"LS","x":122,"y":82},{"p":9,"c":"LS","x":139,"y":20},{"p":9,"c":"LS","x":119,"y":60},{"p":9,"c":"LS","x":128,"y":91},{"p":9,"c":"LS","x":131,"y":101},{"p":9,"c":"LS","x":125,"y":104},{"p":9,"c":"LS","x":133,"y":102},{"p":9,"c":"LS","x":124,"y":103},
{"p":9,"c":"RS","x":124,"y":116},{"p":9,"c":"RS","x":128,"y":120},{"p":9,"c":"RS","x":121,"y":124},{"p":9,"c":"RS","x":126,"y":127},{"p":9,"c":"RS","x":131,"y":130},{"p":9,"c":"RS","x":118,"y":133},{"p":9,"c":"RS","x":124,"y":135},{"p":9,"c":"RS","x":130,"y":137},{"p":9,"c":"RS","x":115,"y":140},{"p":9,"c":"RS","x":121,"y":142},{"p":9,"c":"RS","x":127,"y":144},{"p":9,"c":"RS","x":133,"y":146},{"p":9,"c":"RS","x":118,"y":148},{"p":9,"c":"RS","x":124,"y":150},{"p":9,"c":"RS","x":130,"y":152},{"p":9,"c":"RS","x":112,"y":154},{"p":9,"c":"RS","x":120,"y":156},{"p":9,"c":"RS","x":126,"y":158},{"p":9,"c":"RS","x":132,"y":160},{"p":9,"c":"RS","x":116,"y":162},{"p":9,"c":"RS","x":122,"y":164},{"p":9,"c":"RS","x":128,"y":166},{"p":9,"c":"RS","x":134,"y":168},{"p":9,"c":"RS","x":119,"y":170},{"p":9,"c":"RS","x":125,"y":172},{"p":9,"c":"RS","x":131,"y":174},{"p":9,"c":"RS","x":121,"y":177},{"p":9,"c":"RS","x":127,"y":180},{"p":9,"c":"RS","x":123,"y":184},{"p":9,"c":"RS","x":129,"y":188},{"p":9,"c":"RS","x":125,"y":193},{"p":9,"c":"RS","x":98,"y":138},{"p":9,"c":"RS","x":104,"y":144},{"p":9,"c":"RS","x":110,"y":151},{"p":9,"c":"RS","x":106,"y":160},{"p":9,"c":"RS","x":114,"y":168},{"p":9,"c":"RS","x":124,"y":100},{"p":9,"c":"RS","x":126,"y":110},{"p":9,"c":"RS","x":124,"y":80},
{"p":10,"c":"NM","x":7,"y":104},{"p":10,"c":"NM","x":10,"y":101},{"p":10,"c":"NM","x":13,"y":102},{"p":10,"c":"NM","x":16,"y":99},{"p":10,"c":"NM","x":9,"y":107},{"p":10,"c":"NM","x":12,"y":106},{"p":10,"c":"NM","x":15,"y":104},{"p":10,"c":"NM","x":10,"y":110},{"p":10,"c":"NM","x":13,"y":111},{"p":10,"c":"NM","x":18,"y":98},{"p":10,"c":"NM","x":8,"y":106},{"p":10,"c":"NM","x":11,"y":108},
{"p":10,"c":"GII","x":53,"y":77},{"p":10,"c":"GII","x":57,"y":79},{"p":10,"c":"GII","x":48,"y":80},{"p":10,"c":"GII","x":54,"y":83},{"p":10,"c":"GII","x":44,"y":83},{"p":10,"c":"GII","x":50,"y":86},{"p":10,"c":"GII","x":39,"y":86},{"p":10,"c":"GII","x":45,"y":88},{"p":10,"c":"GII","x":35,"y":89},{"p":10,"c":"GII","x":41,"y":91},{"p":10,"c":"GII","x":30,"y":93},{"p":10,"c":"GII","x":36,"y":95},{"p":10,"c":"GII","x":26,"y":96},{"p":10,"c":"GII","x":32,"y":98},{"p":10,"c":"GII","x":22,"y":99},{"p":10,"c":"GII","x":28,"y":101},{"p":10,"c":"GII","x":19,"y":102},{"p":10,"c":"GII","x":24,"y":104},{"p":10,"c":"GII","x":17,"y":106},{"p":10,"c":"GII","x":26,"y":108},{"p":10,"c":"GII","x":47,"y":92},{"p":10,"c":"GII","x":53,"y":90},{"p":10,"c":"GII","x":38,"y":101},{"p":10,"c":"GII","x":43,"y":97},{"p":10,"c":"GII","x":41,"y":82},{"p":10,"c":"GII","x":53,"y":73},{"p":10,"c":"GII","x":59,"y":76},{"p":10,"c":"GII","x":72,"y":62},
{"p":10,"c":"RS","x":120,"y":9},{"p":10,"c":"RS","x":117,"y":14},{"p":10,"c":"RS","x":123,"y":17},{"p":10,"c":"RS","x":112,"y":19},{"p":10,"c":"RS","x":119,"y":21},{"p":10,"c":"RS","x":126,"y":24},{"p":10,"c":"RS","x":109,"y":26},{"p":10,"c":"RS","x":116,"y":28},{"p":10,"c":"RS","x":123,"y":30},{"p":10,"c":"RS","x":130,"y":32},{"p":10,"c":"RS","x":105,"y":34},{"p":10,"c":"RS","x":112,"y":36},{"p":10,"c":"RS","x":119,"y":38},{"p":10,"c":"RS","x":126,"y":40},{"p":10,"c":"RS","x":108,"y":42},{"p":10,"c":"RS","x":115,"y":44},{"p":10,"c":"RS","x":122,"y":46},{"p":10,"c":"RS","x":129,"y":48},{"p":10,"c":"RS","x":104,"y":50},{"p":10,"c":"RS","x":111,"y":52},{"p":10,"c":"RS","x":118,"y":54},{"p":10,"c":"RS","x":125,"y":56},{"p":10,"c":"RS","x":132,"y":58},{"p":10,"c":"RS","x":108,"y":60},{"p":10,"c":"RS","x":115,"y":62},{"p":10,"c":"RS","x":122,"y":64},{"p":10,"c":"RS","x":112,"y":67},{"p":10,"c":"RS","x":119,"y":70},{"p":10,"c":"RS","x":115,"y":74},{"p":10,"c":"RS","x":121,"y":78},{"p":10,"c":"RS","x":117,"y":83},{"p":10,"c":"RS","x":123,"y":88},{"p":10,"c":"RS","x":119,"y":92},{"p":10,"c":"RS","x":124,"y":97},{"p":10,"c":"RS","x":80,"y":53},{"p":10,"c":"RS","x":85,"y":61},{"p":10,"c":"RS","x":92,"y":52},{"p":10,"c":"RS","x":94,"y":70},{"p":10,"c":"RS","x":97,"y":59},{"p":10,"c":"RS","x":133,"y":86},{"p":10,"c":"RS","x":126,"y":100},{"p":10,"c":"RS","x":120,"y":101},
{"p":10,"c":"LS","x":128,"y":103},{"p":10,"c":"LS","x":132,"y":107},{"p":10,"c":"LS","x":118,"y":112},{"p":10,"c":"LS","x":125,"y":115},{"p":10,"c":"LS","x":115,"y":117},{"p":10,"c":"LS","x":122,"y":120},{"p":10,"c":"LS","x":129,"y":123},{"p":10,"c":"LS","x":119,"y":126},{"p":10,"c":"LS","x":126,"y":128},{"p":10,"c":"LS","x":133,"y":130},{"p":10,"c":"LS","x":121,"y":133},{"p":10,"c":"LS","x":128,"y":135},{"p":10,"c":"LS","x":135,"y":137},{"p":10,"c":"LS","x":117,"y":139},{"p":10,"c":"LS","x":124,"y":141},{"p":10,"c":"LS","x":131,"y":143},{"p":10,"c":"LS","x":138,"y":145},{"p":10,"c":"LS","x":120,"y":147},{"p":10,"c":"LS","x":127,"y":149},{"p":10,"c":"LS","x":134,"y":151},{"p":10,"c":"LS","x":116,"y":153},{"p":10,"c":"LS","x":123,"y":155},{"p":10,"c":"LS","x":130,"y":157},{"p":10,"c":"LS","x":137,"y":159},{"p":10,"c":"LS","x":119,"y":161},{"p":10,"c":"LS","x":126,"y":163},{"p":10,"c":"LS","x":133,"y":165},{"p":10,"c":"LS","x":121,"y":168},{"p":10,"c":"LS","x":128,"y":171},{"p":10,"c":"LS","x":135,"y":174},{"p":10,"c":"LS","x":124,"y":177},{"p":10,"c":"LS","x":130,"y":180},{"p":10,"c":"LS","x":126,"y":184},{"p":10,"c":"LS","x":132,"y":188},{"p":10,"c":"LS","x":128,"y":192},{"p":10,"c":"LS","x":131,"y":196},{"p":10,"c":"LS","x":106,"y":120},{"p":10,"c":"LS","x":114,"y":117}
]},
"facet":{"field":"p","type":"ordinal","header":{"title":null,"labels":false,"labelExpr":"''","labelFontSize":0,"labelPadding":0}},
"columns":5,
"spacing":{"row":66,"column":30},
"bounds":"flush",
"spec":{
"width":148,"height":202,
"layer":[
{"transform":[{"filter":"datum.k==='r'"}],
"mark":{"type":"line","interpolate":"linear-closed","strokeWidth":0,"stroke":"transparent"},
"encoding":{
"x":{"field":"x","type":"quantitative","scale":{"domain":[0,148],"nice":false,"zero":false},"axis":null},
"y":{"field":"y","type":"quantitative","scale":{"domain":[0,202],"nice":false,"zero":false,"reverse":true},"axis":null},
"order":{"field":"o","type":"quantitative"},
"detail":{"field":"c","type":"nominal"},
"fill":{"field":"c","type":"nominal","scale":{"domain":["NM","RS","LS","GII"],"range":["#ccccff","#ccffcc","#ffcccc","#ffffcc"]},
"legend":{"title":null,"orient":"right","symbolType":"M-1.5,-1L1.5,-1L1.5,1L-1.5,1Z","symbolSize":514,"symbolStrokeColor":"#555555","symbolStrokeWidth":1.5,"symbolOpacity":1,"labelFontSize":16,"labelFont":"DejaVu Sans","labelFontWeight":"bold","labelColor":"#000000","rowPadding":7.3,"labelOffset":17,"offset":30,"padding":0}}
}},
{"transform":[{"filter":"!datum.k"}],
"mark":{"type":"circle","size":19,"opacity":1},
"encoding":{
"x":{"field":"x","type":"quantitative","scale":{"domain":[0,148],"nice":false,"zero":false},"axis":null},
"y":{"field":"y","type":"quantitative","scale":{"domain":[0,202],"nice":false,"zero":false,"reverse":true},"axis":null},
"color":{"field":"c","type":"nominal","scale":{"domain":["NM","RS","LS","GII"],"range":["#0000ff","#008000","#ff0000","#bfbf00"]},"legend":null}
}},
{"transform":[{"filter":"datum.k==='e' && datum.l>0"}],
"mark":{"type":"point","filled":true,"fillOpacity":0.65,"stroke":"#555555","strokeWidth":1.5,"strokeOpacity":0.7},
"encoding":{
"x":{"field":"x","type":"quantitative","scale":{"domain":[0,148],"nice":false,"zero":false},"axis":null},
"y":{"field":"y","type":"quantitative","scale":{"domain":[0,202],"nice":false,"zero":false,"reverse":true},"axis":null},
"color":{"field":"c","type":"nominal","scale":{"domain":["NM","RS","LS","GII"],"range":["#0000ff","#008000","#ff0000","#bfbf00"]},"legend":null},
"shape":{"field":"r","type":"nominal","scale":{"domain":[0.3,0.35,0.4,0.45,0.5,0.55,0.6,0.65,0.7],"range":["M-1,0A1,0.3,0,1,0,1,0A1,0.3,0,1,0,-1,0Z","M-1,0A1,0.35,0,1,0,1,0A1,0.35,0,1,0,-1,0Z","M-1,0A1,0.4,0,1,0,1,0A1,0.4,0,1,0,-1,0Z","M-1,0A1,0.45,0,1,0,1,0A1,0.45,0,1,0,-1,0Z","M-1,0A1,0.5,0,1,0,1,0A1,0.5,0,1,0,-1,0Z","M-1,0A1,0.55,0,1,0,1,0A1,0.55,0,1,0,-1,0Z","M-1,0A1,0.6,0,1,0,1,0A1,0.6,0,1,0,-1,0Z","M-1,0A1,0.65,0,1,0,1,0A1,0.65,0,1,0,-1,0Z","M-1,0A1,0.7,0,1,0,1,0A1,0.7,0,1,0,-1,0Z"]},"legend":null},
"size":{"field":"l","type":"quantitative","scale":{"type":"pow","exponent":2,"domain":[0,100],"range":[0,10000]},"legend":null},
"angle":{"field":"a","type":"quantitative","scale":{"domain":[0,360],"range":[0,360]},"legend":null}
}},
{"transform":[{"filter":"datum.k==='e'"}],
"mark":{"type":"point","shape":"M0,-1L0.235,-0.324L0.951,-0.309L0.38,0.124L0.588,0.809L0,0.4L-0.588,0.809L-0.38,0.124L-0.951,-0.309L-0.235,-0.324Z","filled":true,"fill":"#ffff00","stroke":"#808080","strokeWidth":0.7,"size":145,"opacity":1},
"encoding":{
"x":{"field":"x","type":"quantitative","scale":{"domain":[0,148],"nice":false,"zero":false},"axis":null},
"y":{"field":"y","type":"quantitative","scale":{"domain":[0,202],"nice":false,"zero":false,"reverse":true},"axis":null}
}},
{"transform":[{"filter":"datum.k==='t'"}],
"mark":{"type":"rect","fill":"transparent","stroke":"#3a3a3a","strokeWidth":1},
"encoding":{"x":{"datum":0,"type":"quantitative"},"x2":{"datum":148},"y":{"datum":0,"type":"quantitative"},"y2":{"datum":202}}},
{"transform":[{"filter":"datum.k==='t' && datum.p<10"}],
"mark":{"type":"point","shape":"M-1,-0.71L1,-0.71L1,0.71L-1,0.71Z","filled":true,"fill":"#000000","strokeWidth":0,"size":1498,"opacity":1},
"encoding":{"x":{"datum":74,"type":"quantitative"},"y":{"datum":-31.8,"type":"quantitative"}}},
{"transform":[{"filter":"datum.k==='t' && datum.p===10"}],
"mark":{"type":"point","shape":"M-1,-0.53L1,-0.53L1,0.53L-1,0.53Z","filled":true,"fill":"#000000","strokeWidth":0,"size":2704,"opacity":1},
"encoding":{"x":{"datum":74,"type":"quantitative"},"y":{"datum":-31.8,"type":"quantitative"}}},
{"transform":[{"filter":"datum.k==='t'"}],
"mark":{"type":"text","font":"DejaVu Sans","fontSize":18,"fontWeight":"bold","color":"#ffffff","baseline":"middle","align":"center"},
"encoding":{"x":{"datum":74,"type":"quantitative"},"y":{"datum":-31.8,"type":"quantitative"},"text":{"field":"s","type":"nominal"}}}
]},
"config":{"view":{"stroke":null},"header":{"labels":false,"title":null,"labelFontSize":0,"labelPadding":0},"headerFacet":{"labels":false,"title":null,"labelFontSize":0,"labelPadding":0}}
}
